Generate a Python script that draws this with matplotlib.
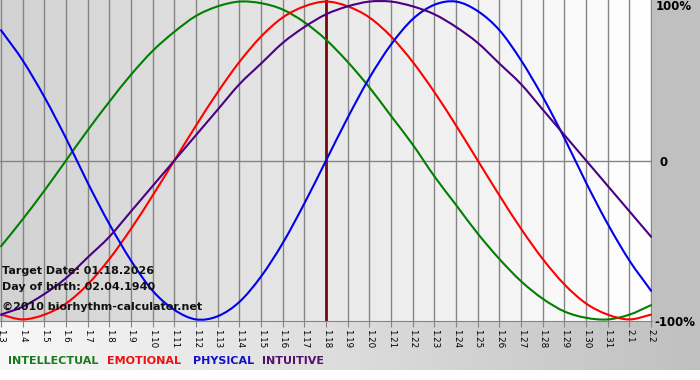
import numpy as np
import matplotlib
matplotlib.use("Agg")
import matplotlib.pyplot as plt
from matplotlib.colors import LinearSegmentedColormap
from matplotlib.patches import Rectangle, PathPatch
from matplotlib.path import Path

# ---- data (percent values per day) ----
day_labels = ["1.3", "1.4", "1.5", "1.6", "1.7", "1.8", "1.9", "1.10", "1.11", "1.12",
              "1.13", "1.14", "1.15", "1.16", "1.17", "1.18", "1.19", "1.20", "1.21",
              "1.22", "1.23", "1.24", "1.25", "1.26", "1.27", "1.28", "1.29", "1.30",
              "1.31", "2.1", "2.2"]
target_label = "1.18"

intellectual = [-54, -37, -19, 0, 19, 37, 54, 69, 81, 91, 97, 100, 99, 95, 87, 76,
                62, 46, 28, 10, -10, -28, -46, -62, -76, -87, -95, -99, -100, -97, -91]
emotional = [-97, -100, -97, -90, -78, -62, -43, -22, 0, 22, 43, 62, 78, 90, 97, 100,
             97, 90, 78, 62, 43, 22, 0, -22, -43, -62, -78, -90, -97, -100, -97]
physical = [82, 63, 40, 14, -14, -40, -63, -82, -94, -100, -98, -89, -73, -52, -27, 0,
            27, 52, 73, 89, 98, 100, 94, 82, 63, 40, 14, -14, -40, -63, -82]
intuitive = [-97, -92, -84, -74, -61, -48, -32, -16, 0, 16, 32, 48, 61, 74, 84, 92,
             97, 100, 100, 97, 92, 84, 74, 61, 48, 32, 16, 0, -16, -32, -48]

series_names = ["INTELLECTUAL", "EMOTIONAL", "PHYSICAL", "INTUITIVE"]
series_colors = ["#008000", "#ff0000", "#0000ee", "#4b0082"]
legend_colors = ["#1a7a1a", "#ee1111", "#1111cc", "#55106e"]
y_labels = ["100%", "0", "-100%"]
info_lines = ["Target Date: 01.18.2026", "Day of birth: 02.04.1940",
              "\u00a92010 biorhythm-calculator.net"]


def smooth_path(xs, ys):
    """Catmull-Rom curve through the data points, drawn as cubic Bezier segments."""
    xs = np.asarray(xs, float)
    ys = np.asarray(ys, float)
    n = len(xs)
    verts = [(xs[0], ys[0])]
    codes = [Path.MOVETO]
    for i in range(n - 1):
        x0, y0 = (xs[i - 1], ys[i - 1]) if i > 0 else (2 * xs[0] - xs[1], 2 * ys[0] - ys[1])
        x1, y1 = xs[i], ys[i]
        x2, y2 = xs[i + 1], ys[i + 1]
        x3, y3 = (xs[i + 2], ys[i + 2]) if i + 2 < n else (2 * xs[-1] - xs[-2], 2 * ys[-1] - ys[-2])
        c1 = (x1 + (x2 - x0) / 6, y1 + (y2 - y0) / 6)
        c2 = (x2 - (x3 - x1) / 6, y2 - (y3 - y1) / 6)
        verts += [c1, c2, (x2, y2)]
        codes += [Path.CURVE4] * 3
    return Path(verts, codes)


W, H = 700, 380
fig = plt.figure(figsize=(W / 100, H / 100), dpi=100)
fig.patch.set_facecolor("white")

# background layer in pixel coords
bg = fig.add_axes([0, 0, 1, 1], zorder=0)
bg.axis("off")
bg.add_patch(Rectangle((652, 0), 48, 321, color="#c0c0c0", lw=0))
grad = np.linspace(0, 1, 256).reshape(1, -1)
cm_strip = LinearSegmentedColormap.from_list("strip", ["#f8f8f8", "#c0c0c0"])
bg.imshow(grad, extent=(0, W, 370, 321), cmap=cm_strip, aspect="auto", interpolation="bicubic")
bg.set_xlim(0, W)
bg.set_ylim(H, 0)

# main plot axes
ax = fig.add_axes([0, (H - 321) / H, 652 / W, 321 / H], zorder=1)
ax.patch.set_alpha(0)
cm_plot = LinearSegmentedColormap.from_list("plot", ["#d2d2d2", "#ffffff"])
ax.imshow(grad, extent=(0, 1, 0, 1), transform=ax.transAxes, cmap=cm_plot,
          aspect="auto", zorder=0, interpolation="bicubic")

x = np.arange(len(day_labels))
for xi in x:
    ax.axvline(xi, color="#858585", lw=1.0, zorder=1)
ax.axhline(0, color="#858585", lw=1.0, zorder=1)
ax.axvline(day_labels.index(target_label), color="#7a0a0a", lw=2.0, zorder=2)

for vals, col in zip([intellectual, emotional, physical, intuitive], series_colors):
    ax.add_patch(PathPatch(smooth_path(x, vals), facecolor="none", edgecolor=col,
                           lw=1.5, zorder=3, capstyle="round", joinstyle="round"))

ax.set_xlim(-0.046, 30.04)
ax.set_ylim(-101, 101)
for s in ["top", "left", "right"]:
    ax.spines[s].set_visible(False)
ax.spines["bottom"].set_color("#858585")
ax.set_yticks([])
ax.set_xticks(x)
ax.set_xticklabels(day_labels, rotation=270, fontsize=6.3, fontfamily="DejaVu Sans")
ax.tick_params(axis="x", length=4, color="#858585", pad=2)

# right-side percentage labels
fig.text(656 / W, 1 - 7 / H, y_labels[0], fontsize=8.5, fontweight="bold", va="center", ha="left")
fig.text(659 / W, 1 - 162 / H, y_labels[1], fontsize=8.5, fontweight="bold", va="center", ha="left")
fig.text(654 / W, 1 - 322 / H, y_labels[2], fontsize=8.5, fontweight="bold", va="center", ha="left")

# info text
for txt, yy in zip(info_lines, [271, 287, 307]):
    fig.text(2 / W, 1 - yy / H, txt, fontsize=8, fontweight="bold", va="center", ha="left",
             color="#111111", zorder=5)

# legend
lx = [8, 107, 193, 262]
for name, col, xx in zip(series_names, legend_colors, lx):
    fig.text(xx / W, 1 - 361 / H, name, fontsize=8, fontweight="bold", color=col,
             va="center", ha="left")

fig.savefig("out.png", dpi=100)
